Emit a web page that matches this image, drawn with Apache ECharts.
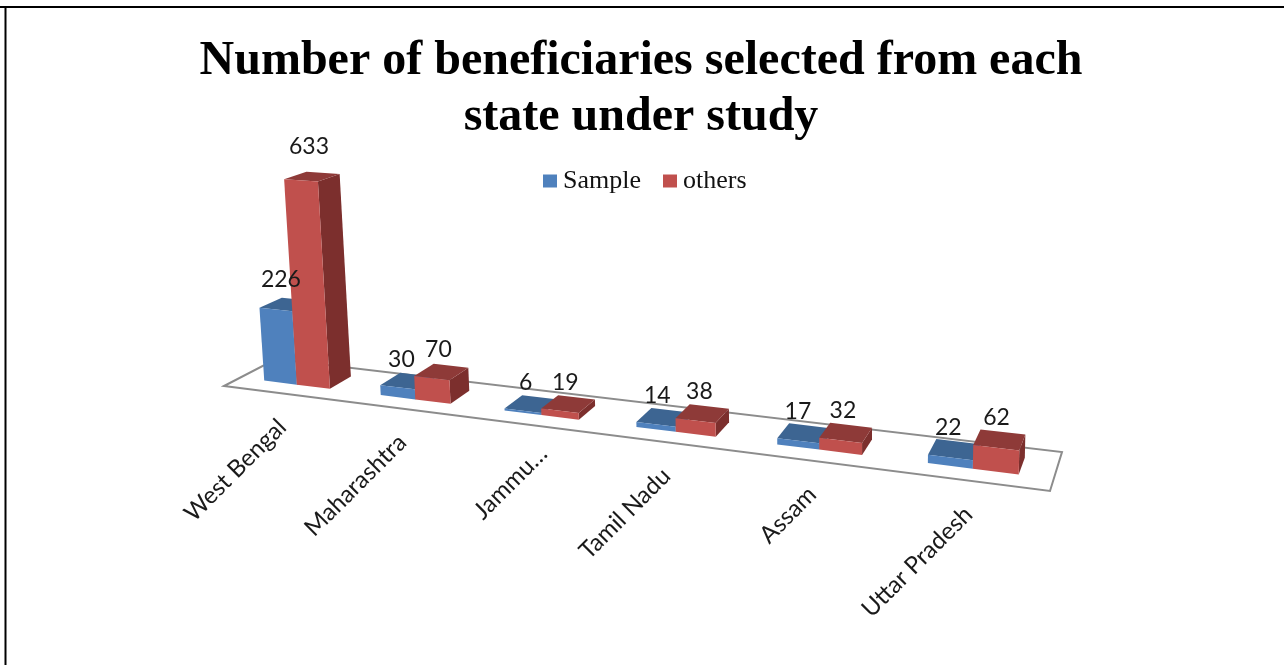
<!DOCTYPE html>
<html><head><meta charset="utf-8">
<style>html,body{margin:0;padding:0;background:#fff}#c{width:1284px;height:665px}</style>
<script src="https://cdn.jsdelivr.net/npm/echarts@6/dist/echarts.min.js"></script>
</head><body><div id="c"></div>
<script>
const categories = ['West Bengal','Maharashtra','Jammu…','Tamil Nadu','Assam','Uttar Pradesh'];
const sampleValues = [226,30,6,14,17,22];
const othersValues = [633,70,19,38,32,62];

// Perspective floor: corners of the chart floor on screen
const FL=[224,386],FR=[1050,491],BR=[1062,452],BL=[276,359];
const dx1=FR[0]-BR[0],dx2=BL[0]-BR[0],sx=FL[0]-FR[0]+BR[0]-BL[0];
const dy1=FR[1]-BR[1],dy2=BL[1]-BR[1],sy=FL[1]-FR[1]+BR[1]-BL[1];
const den=dx1*dy2-dx2*dy1;
const g=(sx*dy2-dx2*sy)/den,h=(dx1*sy-sx*dy1)/den;
const a=FR[0]-FL[0]+g*FR[0],b=BL[0]-FL[0]+h*BL[0],c=FL[0];
const d=FR[1]-FL[1]+g*FR[1],e=BL[1]-FL[1]+h*BL[1],f=FL[1];
function floorPt(u,v){const w=g*u+h*v+1;return {x:(a*u+b*v+c)/w,y:(d*u+e*v+f)/w,w:w};}
function lift(p,flatH){const hp=flatH/p.w;return [p.x+hp*(p.x-828)/8600,p.y-hp];}
const V0=0.3,V1=0.733;

function barItem(side,colors,labelDx){
  return function(params,api){
    const i=api.value(0),val=api.value(1),cs=params.coordSys;
    const base=api.coord([i,0]),top=api.coord([i,val]),flatH=base[1]-top[1];
    const bw=api.size([1,0])[0]/3.5;
    const x0=base[0]+(side<0?-bw:0),x1=x0+bw;
    const u0=(x0-cs.x)/cs.width,u1=(x1-cs.x)/cs.width;
    const fl=floorPt(u0,V0),fr=floorPt(u1,V0),bl=floorPt(u0,V1),br=floorPt(u1,V1);
    const tfl=lift(fl,flatH),tfr=lift(fr,flatH),tbl=lift(bl,flatH),tbr=lift(br,flatH);
    const cx=(tfl[0]+tfr[0]+tbl[0]+tbr[0])/4,cy=(tfl[1]+tfr[1]+tbl[1]+tbr[1])/4;
    return {type:'group',children:[
      {type:'polygon',shape:{points:[[fr.x,fr.y],[br.x,br.y],tbr,tfr]},style:{fill:colors[2]}},
      {type:'polygon',shape:{points:[tfl,tfr,tbr,tbl]},style:{fill:colors[1]}},
      {type:'polygon',shape:{points:[[fl.x,fl.y],[fr.x,fr.y],tfr,tfl]},style:{fill:colors[0]}},
      {type:'text',z2:100,x:cx+labelDx,y:cy-21.5-flatH*0.04,style:{text:String(val),fontFamily:'Lato',fontSize:23,fill:'#1a1a1a',align:'center',verticalAlign:'middle'}}
    ]};
  };
}
function floorItem(){
  const pts=[[0,0],[1,0],[1,1],[0,1]].map(p=>{const q=floorPt(p[0],p[1]);return [q.x,q.y];});
  return {type:'polygon',shape:{points:pts},style:{fill:'none',stroke:'#8c8c8c',lineWidth:2}};
}
function catItem(params,api){
  const i=api.value(0),cs=params.coordSys,base=api.coord([i,0]);
  const q=floorPt((base[0]-cs.x)/cs.width,0);
  const name=categories[i],cut=name.endsWith('…');
  return {type:'text',x:q.x+1+(cut?13:0),y:q.y+30-(cut?5:0),rotation:Math.PI/4,style:{text:name,fontFamily:'Lato',fontSize:24,fill:'#1a1a1a',align:'right',verticalAlign:'middle'}};
}

const chart=echarts.init(document.getElementById('c'),null,{renderer:'canvas'});
chart.setOption({
  animation:false,
  backgroundColor:'#fff',
  title:{text:'Number of beneficiaries selected from each\nstate under study',left:641,top:34,textAlign:'center',padding:0,
    textStyle:{fontFamily:'Liberation Serif',fontWeight:'bold',fontSize:48,lineHeight:56,color:'#000'}},
  legend:{data:['Sample','others'],left:543,top:168,padding:0,icon:'rect',itemWidth:14,itemHeight:13,itemGap:22,
    textStyle:{fontFamily:'Liberation Serif',fontSize:26,color:'#111',padding:[0,0,0,1]}},
  grid:{left:224,width:826,top:100,height:227.5},
  xAxis:{type:'category',data:categories,show:false},
  yAxis:{type:'value',min:0,max:700,show:false},
  graphic:[
    {type:'line',shape:{x1:0,y1:7,x2:1284,y2:7},style:{stroke:'#000',lineWidth:2}},
    {type:'line',shape:{x1:5.5,y1:6,x2:5.5,y2:665},style:{stroke:'#000',lineWidth:2}}
  ],
  series:[
    {type:'custom',name:'floor',coordinateSystem:'cartesian2d',renderItem:floorItem,data:[[0,0]],silent:true,z:1},
    {type:'custom',name:'Sample',coordinateSystem:'cartesian2d',itemStyle:{color:'#4F81BD'},z:2,
      renderItem:barItem(-1,['#4F81BD','#3D6592','#3A5F8A'],-6),encode:{x:0,y:1},data:sampleValues.map((v,i)=>[i,v])},
    {type:'custom',name:'others',coordinateSystem:'cartesian2d',itemStyle:{color:'#C0504D'},z:2,
      renderItem:barItem(1,['#C0504D','#8E3A38','#7C2F2D'],-3),encode:{x:0,y:1},data:othersValues.map((v,i)=>[i,v])},
    {type:'custom',name:'categoryLabels',coordinateSystem:'cartesian2d',renderItem:catItem,silent:true,z:3,data:categories.map((n,i)=>[i,0])}
  ]
});
</script></body></html>
